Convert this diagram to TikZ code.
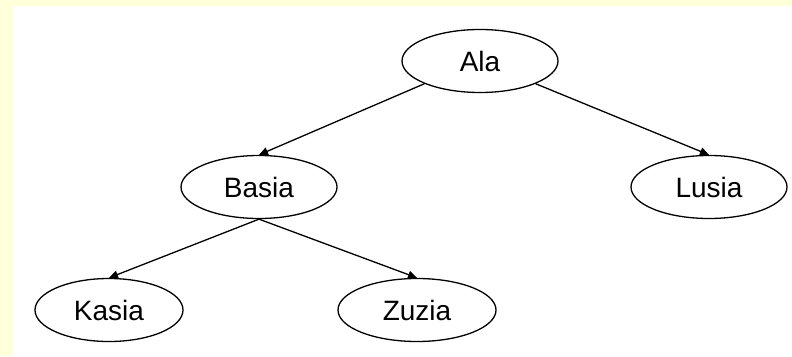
\documentclass[tikz,border=0pt]{standalone}
\usepackage{fontspec}
\setmainfont{Liberation Sans}
\usepackage{xcolor}
\usetikzlibrary{arrows.meta}
\usetikzlibrary{shapes.geometric}
\definecolor{paleyellow}{RGB}{255,255,217}
\tikzstyle{treehead}=[>/.tip={Triangle[length=9pt,width=8pt]}]
\tikzstyle{person}=[draw,ellipse,line width=1.3pt,minimum width=156pt,minimum height=63pt,inner sep=0pt,font=\fontsize{28}{28}\selectfont]
\tikzstyle{edge}=[line width=1.3pt,treehead,->]
\begin{document}
\begin{tikzpicture}[x=1pt,y=-1pt]
	\fill[paleyellow] (0,0) rectangle (792,356);
	\fill[white] (13,6) rectangle (792,356);
	\useasboundingbox (0,0) rectangle (792,356);
	\node[person] (ala)   at (480,61)  {Ala};
	\node[person] (basia) at (259,187) {Basia};
	\node[person] (lusia) at (709,187) {Lusia};
	\node[person,minimum width=148pt] (kasia) at (109,310) {Kasia};
	\node[person,minimum width=158pt] (zuzia) at (417,310) {Zuzia};
	\draw[edge] (ala.south west) -- (basia.north);
	\draw[edge] (ala.south east) -- (lusia.north);
	\draw[edge] (basia.south) -- (kasia.north);
	\draw[edge] (basia.south) -- (zuzia.north);
\end{tikzpicture}
\end{document}
